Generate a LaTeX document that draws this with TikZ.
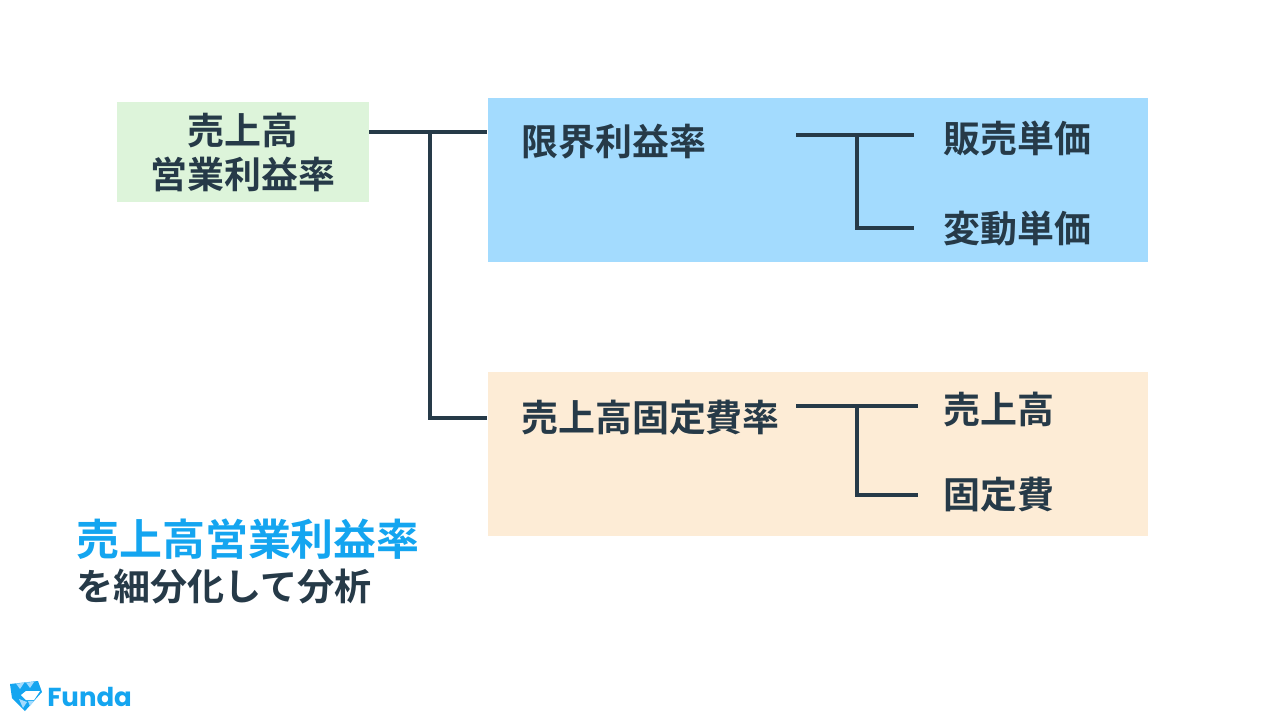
\documentclass[tikz,border=0pt]{standalone}
\usepackage{fontspec}
\usepackage{xcolor}
\setmainfont{Noto Sans CJK JP}[BoldFont={Noto Sans CJK JP Bold}]
\newfontfamily\latinfont{Poppins}[BoldFont={Poppins Bold}]
\definecolor{inkcol}{HTML}{263A48}
\definecolor{greencol}{HTML}{DDF4DA}
\definecolor{bluecol}{HTML}{A3DBFE}
\definecolor{orangecol}{HTML}{FDECD6}
\definecolor{brandcol}{HTML}{14A5F0}
\tikzset{
  label/.style={inner sep=0pt,text=inkcol,font=\fontsize{27.7pt}{33pt}\selectfont\bfseries},
  wire/.style={draw=inkcol,line width=3pt},
  panel/.style={inner sep=0pt,minimum width=495pt,minimum height=123pt},
  facet/.style={fill=bluecol}
}
\begin{document}
\begin{tikzpicture}[x=0.75pt,y=-0.75pt]
  \useasboundingbox (0,0) rectangle (1280,720);
  \fill[white] (0,0) rectangle (1280,720);
  % boxes
  \node[fill=greencol,inner sep=0pt,minimum width=189pt,minimum height=75pt] (root) at (243,152) {};
  \node[panel,fill=bluecol] (upper) at (818,180) {};
  \node[panel,fill=orangecol] (lower) at (818,454) {};
  % labels
  \node[label,align=center] (roottext) at (243,152) {売上高\\営業利益率};
  \node[label,anchor=west] (margin) at (521,142) {限界利益率};
  \node[label,anchor=west] (price) at (943,138) {販売単価};
  \node[label,anchor=west] (varcost) at (943,229) {変動単価};
  \node[label,anchor=west] (fixrate) at (521,418) {売上高固定費率};
  \node[label,anchor=west] (sales) at (943,409) {売上高};
  \node[label,anchor=west] (fixcost) at (943,495) {固定費};
  % connectors
  \coordinate (a0) at (369,132.5);
  \coordinate (a1) at (430,132.5);
  \coordinate (a2) at (487,132.5);
  \coordinate (a3) at (487,418);
  \draw[wire] (a0) -- (a2);
  \draw[wire] (a1) |- (a3);
  \coordinate (b0) at (796,135.5);
  \coordinate (b1) at (857,135.5);
  \coordinate (b2) at (914,135.5);
  \coordinate (b3) at (914,228);
  \draw[wire] (b0) -- (b2);
  \draw[wire] (b1) |- (b3);
  \coordinate (c0) at (796,406);
  \coordinate (c1) at (857,406);
  \coordinate (c2) at (918,406);
  \coordinate (c3) at (918,495);
  \draw[wire] (c0) -- (c2);
  \draw[wire] (c1) |- (c3);
  % caption
  \node[inner sep=0pt,anchor=west,text=brandcol,font=\fontsize{32.2pt}{36pt}\selectfont\bfseries] (title) at (76,539) {売上高営業利益率};
  \node[inner sep=0pt,anchor=west,text=inkcol,font=\fontsize{27.8pt}{30pt}\selectfont\bfseries] (subtitle) at (76,587) {を細分化して分析};
  % logo
  \fill[brandcol] (10,684) -- (38,681) -- (42,692) -- (25,711) -- (12,698) -- cycle;
  \fill[white] (40,691) -- (26,691) -- (21,695) -- (26,700) -- (34,700) -- cycle;
  \fill[facet] (16,683.5) -- (24,683) -- (20,689) -- cycle;
  \fill[facet] (26,682.5) -- (34,682) -- (30,688) -- cycle;
  \fill[facet] (19,699) -- (27,702) -- (23,708) -- cycle;
  \fill[facet] (28,701) -- (34,701) -- (30,706) -- cycle;
  \node[inner sep=0pt,anchor=west,text=brandcol,font=\latinfont\fontsize{19.5pt}{20pt}\selectfont\bfseries] (brand) at (47,697) {Funda};
\end{tikzpicture}
\end{document}
